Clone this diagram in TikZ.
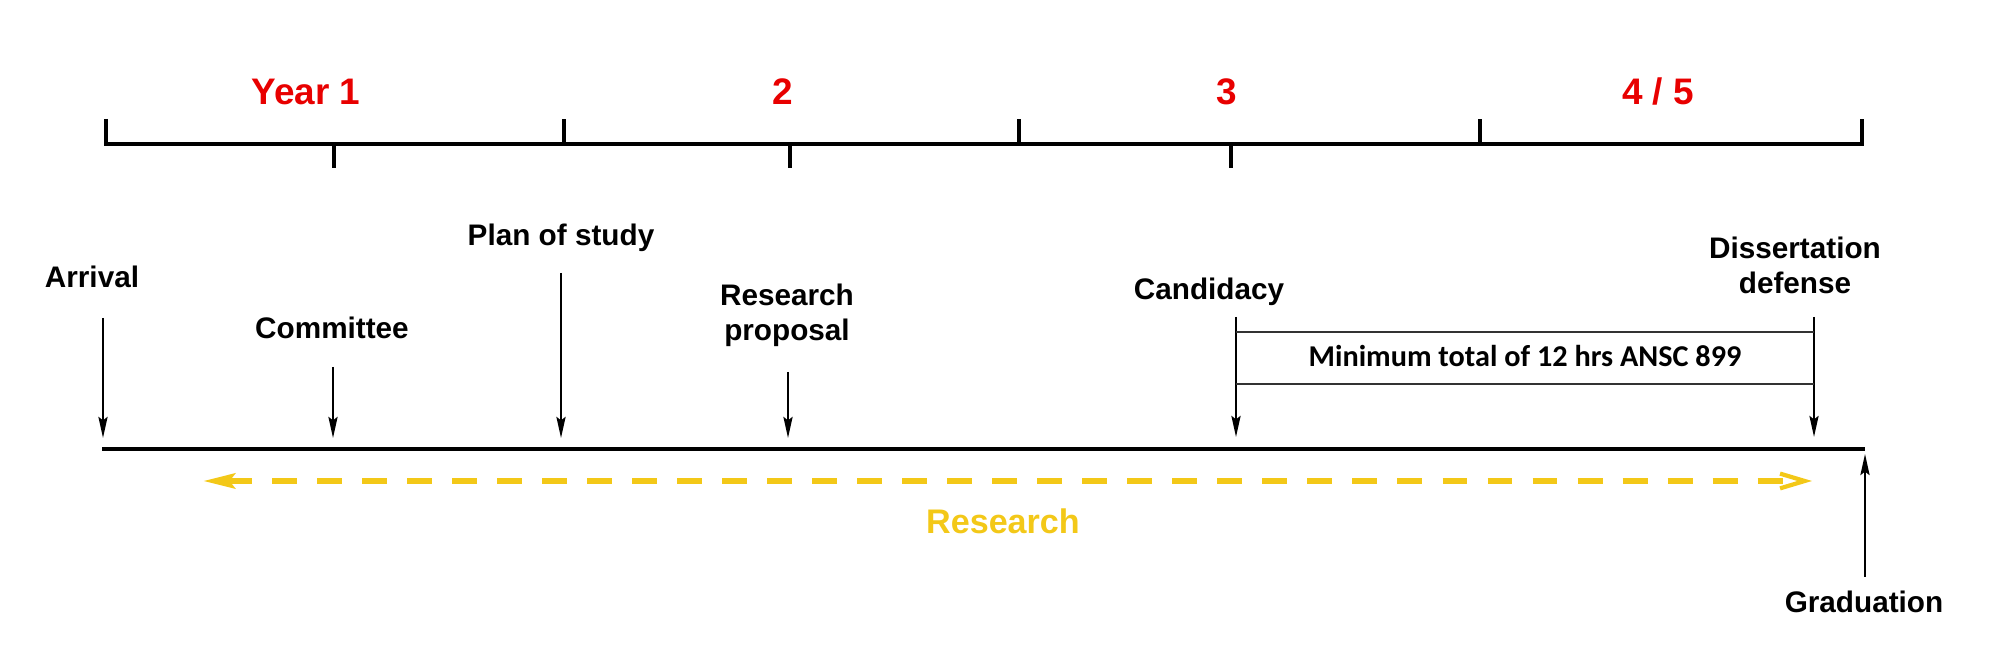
\documentclass[tikz,border=0pt]{standalone}
\usepackage{fontspec}
\setmainfont{Liberation Sans}
\newfontfamily\carl{Carlito}
\usetikzlibrary{arrows.meta}
\definecolor{yred}{RGB}{232,0,0}
\definecolor{ryel}{RGB}{243,200,24}
\begin{document}
\begin{tikzpicture}[x=0.01cm,y=-0.01cm,
  topaxis/.style={line width=1.05pt, line join=miter},
  botaxis/.style={line width=1.3pt},
  yearlbl/.style={text=yred, font=\fontsize{10.5}{12}\selectfont\bfseries, anchor=base, inner sep=0},
  evlbl/.style={font=\fontsize{8.45}{10}\selectfont\bfseries, inner sep=0, align=center},
  evarrow/.style={line width=0.65pt, -{Stealth[length=6pt,width=2.6pt,inset=1pt]}},
  bracketline/.style={line width=0.6pt, draw=black!80},
  research/.style={draw=ryel, line width=1.75pt, dash pattern=on 7.1pt off 5.7pt,
    {Stealth[length=9pt,width=4.2pt,inset=1.5pt]}-{Straight Barb[length=7pt,width=4.2pt,line width=1.2pt]}}
]
\useasboundingbox (0,0) rectangle (2000,659);

% ---------- top (years) axis ----------
\coordinate (tl) at (106,144);
\coordinate (tr) at (1862,144);
\coordinate (tlu) at (106,119);
\coordinate (tru) at (1862,119);
\draw[topaxis] (tlu) -- (tl) -- (tr) -- (tru);
\foreach \x in {564,1019,1480} \draw[topaxis] (\x,144) -- (\x,119);
\foreach \x in {334,790,1231} \draw[topaxis] (\x,144) -- (\x,168);

\node[yearlbl] (y1) at (306,105) {Year 1};
\node[yearlbl] (y2) at (783,105) {2};
\node[yearlbl] (y3) at (1227,105) {3};
\node[yearlbl] (y45) at (1658,105) {4 / 5};

% ---------- bottom (events) axis ----------
\coordinate (bl) at (102,449);
\coordinate (br) at (1865,449);
\draw[botaxis] (bl) -- (br);

% event labels
\node[evlbl, anchor=base] (arr) at (92,288) {Arrival};
\node[evlbl, anchor=base] (com) at (332,339) {Committee};
\node[evlbl, anchor=base] (pos) at (561,246) {Plan of study};
\node[evlbl] (rp) at (787,315) {Research\\proposal};
\node[evlbl, anchor=base] (cand) at (1209,300) {Candidacy};
\node[evlbl] (diss) at (1795,265) {Dissertation\\defense};
\node[evlbl, anchor=base] (grad) at (1864,613) {Graduation};

% arrow end points
\coordinate (arrS) at (103,318);  \coordinate (arrE) at (103,438);
\coordinate (comS) at (333,367);  \coordinate (comE) at (333,438);
\coordinate (posS) at (561,273);  \coordinate (posE) at (561,438);
\coordinate (rpS) at (788,372);   \coordinate (rpE) at (788,438);
\coordinate (candS) at (1236,317); \coordinate (candE) at (1236,437);
\coordinate (dissS) at (1814,317); \coordinate (dissE) at (1814,437);
\coordinate (gradS) at (1865,577); \coordinate (gradE) at (1865,454);

\draw[evarrow] (arrS) -- (arrE);
\draw[evarrow] (comS) -- (comE);
\draw[evarrow] (posS) -- (posE);
\draw[evarrow] (rpS) -- (rpE);
\draw[evarrow] (candS) -- (candE);
\draw[evarrow] (dissS) -- (dissE);
\draw[evarrow] (gradS) -- (gradE);

% bracket with minimum hours
\coordinate (bk1) at (1236,332); \coordinate (bk2) at (1814,332);
\coordinate (bk3) at (1236,384); \coordinate (bk4) at (1814,384);
\draw[bracketline] (bk1) -- (bk2);
\draw[bracketline] (bk3) -- (bk4);
\node[font=\carl\bfseries\fontsize{8.6}{10}\selectfont, inner sep=0, anchor=base] (minh) at (1525,367) {Minimum total of 12 hrs ANSC 899};

% research arrow
\coordinate (rsL) at (203,481);
\coordinate (rsR) at (1812,481);
\draw[research] (rsL) -- (rsR);
\node[text=ryel, font=\fontsize{9.7}{12}\selectfont\bfseries, inner sep=0, anchor=base] (res) at (1003,534) {Research};
\end{tikzpicture}
\end{document}
